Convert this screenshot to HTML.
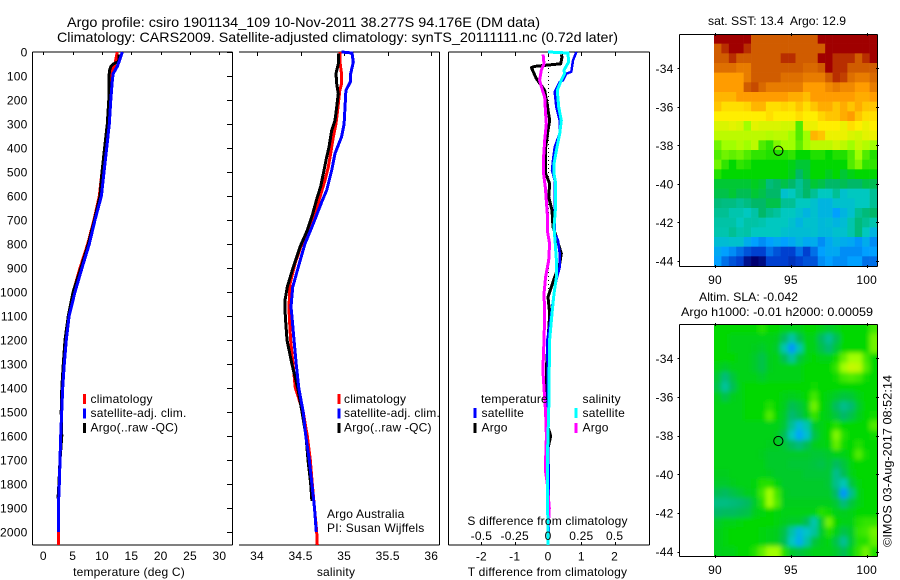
<!DOCTYPE html>
<html lang="en">
<head>
<meta charset="utf-8">
<title>Argo profile csiro 1901134_109</title>
<style>
html,body{margin:0;padding:0;background:#fff;width:900px;height:580px;overflow:hidden}
svg{display:block}
text{font-family:"Liberation Sans",sans-serif;font-size:12px;fill:#000;letter-spacing:0.2px}
.title{font-size:14px;letter-spacing:0}
.fit{letter-spacing:0}
</style>
</head>
<body>
<svg id="chart" xmlns="http://www.w3.org/2000/svg" width="900" height="580" viewBox="0 0 900 580">
<rect width="900" height="580" fill="#fff"/>
<text class="title" x="67" y="27" textLength="473" lengthAdjust="spacingAndGlyphs">Argo profile: csiro 1901134_109 10-Nov-2011 38.277S 94.176E (DM data)</text>
<text class="title" x="57" y="42" textLength="561" lengthAdjust="spacingAndGlyphs">Climatology: CARS2009. Satellite-adjusted climatology: synTS_20111111.nc (0.72d later)</text>

<g id="p1"></g>
<g id="p2"></g>
<g id="p3"></g>
<defs>
<clipPath id="clipSst"><rect x="714" y="34" width="163" height="232"/></clipPath>
<clipPath id="clipSla"><rect x="714" y="324" width="163" height="232"/></clipPath>
<filter id="slaBlur" x="-5%" y="-5%" width="110%" height="110%"><feGaussianBlur stdDeviation="2.5"/></filter>
</defs>
<g id="m1"></g>
<g id="m2"></g>

<text class="fit" x="708" y="25" textLength="138" lengthAdjust="spacingAndGlyphs" xml:space="preserve">sat. SST: 13.4  Argo: 12.9</text>
<text class="fit" x="699" y="301" textLength="99" lengthAdjust="spacingAndGlyphs">Altim. SLA: -0.042</text>
<text class="fit" x="681" y="316" textLength="192" lengthAdjust="spacingAndGlyphs">Argo h1000: -0.01 h2000: 0.00059</text>
<text class="fit" transform="translate(891.5,547) rotate(-90)" textLength="172" lengthAdjust="spacingAndGlyphs">©IMOS 03-Aug-2017 08:52:14</text>
<text x="327" y="518">Argo Australia</text>
<text x="327" y="532">PI: Susan Wijffels</text>
</svg>
<script>
// ---------- axis tick data ----------
const depthTicks = [0,100,200,300,400,500,600,700,800,900,1000,1100,1200,1300,1400,1500,1600,1700,1800,1900,2000];
const tempTicks = [0,5,10,15,20,25,30];
const salTicks = [34,34.5,35,35.5,36];
const salTickLabels = ['34','34.5','35','35.5','36'];
const tDiffTicks = [-2,-1,0,1,2];
const sDiffTicks = [-0.5,-0.25,0,0.25,0.5];
const sDiffTickLabels = ['-0.5','-0.25','0','0.25','0.5'];
const lonTicks = [90,95,100];
const latTicks = [-34,-36,-38,-40,-42,-44];

// ---------- temperature profiles ----------
const tempClimDepth = [0,50,70,100,200,300,400,500,600,700,800,900,1000,1100,1200,1300,1400,1500,1600,1700,1800,1900,2000,2055];
const tempClim = [12.6,12.2,11.9,11.5,11.25,10.9,10.56,10,9.54,8.64,7.56,6.25,5.1,4.35,3.9,3.56,3.3,3.13,2.96,2.85,2.73,2.56,2.56,2.56];
const tempSatDepth = [0,30,60,90,120,200,300,400,500,600,700,800,900,1000,1100,1200,1300,1400,1500,1600,1700,1800,1900,2000];
const tempSat = [13.46,13.07,12.6,11.9,11.76,11.5,11.25,10.8,10.34,9.9,8.8,7.84,6.6,5.4,4.4,3.92,3.58,3.3,3.13,2.96,2.85,2.73,2.56,2.56];
const tempArgoDepth = [10,40,50,60,80,200,300,400,500,600,700,800,900,1000,1100,1200,1300,1400,1500,1600,1700,1800,1860];
const tempArgo = [12.9,12.85,11.9,11.5,11.25,11.15,10.9,10.45,10,9.66,8.7,7.67,6.4,5.07,4.26,3.7,3.4,3.15,3.05,3.16,2.85,2.65,2.5];

// ---------- salinity profiles ----------
const salClimDepth = [0,35,90,132,160,229,299,354,424,479,535,604,674,743,812,882,965,1062,1100,1200,1300,1400,1500,1600,1700,1800,1900,2000,2055];
const salClim = [34.95,34.95,34.97,34.97,34.95,34.93,34.906,34.876,34.845,34.818,34.78,34.723,34.666,34.589,34.501,34.436,34.379,34.367,34.371,34.386,34.413,34.44,34.53,34.577,34.612,34.635,34.66,34.685,34.692];
const salSatDepth = [0,4,42,90,125,160,230,300,354,423,493,576,618,715,800,896,980,1062,1100,1200,1300,1400,1500,1600,1700,1800,1900,2000];
const salSat = [34.97,35.09,35.105,35.075,35.07,35.02,35.01,35.0,34.97,34.895,34.857,34.8,34.75,34.646,34.55,34.474,34.41,34.39,34.40,34.425,34.45,34.48,34.53,34.56,34.60,34.63,34.66,34.68];
const salArgoDepth = [7,49,90,132,174,229,285,326,396,451,507,562,604,674,743,812,896,979,1035,1062,1100,1200,1300,1400,1500,1600,1700,1800,1870];
const salArgo = [34.933,34.933,34.906,34.914,34.933,34.914,34.895,34.857,34.826,34.792,34.761,34.73,34.692,34.639,34.577,34.493,34.417,34.348,34.321,34.321,34.325,34.344,34.40,34.467,34.516,34.562,34.585,34.616,34.63];

// ---------- difference profiles ----------
const dTempSatDepth = [0,35,83,90,118,125,167,229,285,340,396,451,493,535,604,757,785,840,896,951,1035,1090,1200,1500,1800,2000];
const dTempSat = [0.85,0.75,0.7,0.55,0.45,0.35,0.2,0.25,0.35,0.35,0.2,0.15,0.12,0.2,0.2,0.2,0.3,0.35,0.35,0.25,0.15,0.1,-0.02,0,0.02,0.02];
const dTempArgoDepth = [10,21,49,60,65,111,139,160,215,285,326,396,507,549,604,660,729,771,840,882,938,1021,1090,1325,1500,1550,1600,1650,2000];
const dTempArgo = [0.4,0.42,0.38,-0.4,-0.5,-0.35,-0.2,-0.1,-0.03,0.05,0,-0.07,-0.07,0.05,0.02,0.12,0.15,0.25,0.4,0.35,0.2,0,0.05,-0.05,-0.04,-0.03,0.08,0,0];
const dSalSatDepth = [0,4,42,76,90,118,160,229,285,340,410,465,507,549,604,660,729,799,868,938,1007,1090,1200,1500,1600,1700,1800,2000,2055];
const dSalSat = [0,0.15,0.155,0.12,0.125,0.1,0.07,0.08,0.1,0.088,0.063,0.045,0.045,0.058,0.055,0.055,0.045,0.055,0.063,0.063,0.045,0.03,0.012,0.005,0,-0.005,-0.005,0,0];
const dSalArgoDepth = [10,49,76,118,153,188,257,299,368,438,507,563,618,674,743,799,868,938,1007,1090,1200,1325,1400,1500,1600,1740,1800,1900,2000];
const dSalArgo = [-0.037,-0.03,-0.05,-0.063,-0.045,-0.025,-0.018,-0.013,-0.025,-0.033,-0.033,-0.02,-0.013,-0.005,-0.005,0.012,0.005,-0.018,-0.03,-0.025,-0.03,-0.038,-0.03,-0.018,-0.012,-0.02,-0.005,0.01,0];

// ---------- map fields (colour-scale level, 0 = coldest/lowest, 10 = warmest/highest) ----------
const sstField = [
[10,10,10,10,10,9,9,9,9,9,9,9,9,9,10,10,10,10,10,10,10,10],
[9,9.5,10,10,9.5,9,9,9,9,9,9,9,9,9,9,10,10,10,10,10,10,10],
[9,9,9.5,9,9,9,9,9,9,9.5,9.5,9,9,9,10,10,9.5,9.5,9.5,9,9.5,10],
[8.7,8.7,8.7,8.5,8.5,9,9,9,9,9,9,9,8.8,8.8,9,10,9.5,9.5,9,9,9,9],
[8,8,8,8,8.5,9,9,9,9,8.7,8.7,8.7,8.5,8.5,8.5,9,9.5,9.3,8.7,8.5,8.5,8.8],
[8,8,8,8,9,9.2,8.8,8.5,8.5,8.5,8.5,8.5,8,8,8,8.3,8.5,8.3,8.3,8,8,8.5],
[7.7,7.7,7.7,8,8,8,8,8,8,8,7.8,7.8,7.6,8,8,8,8,8,8,7.8,7.8,8],
[7.5,7.2,7.2,7.2,7.3,7.7,7.7,7.2,7.2,7.3,7.2,7.5,7.2,7.5,7.8,7.8,7.5,7.8,7.5,7.8,7.5,7.5],
[7,7,7,7,7,7,7,7.2,7,7,7,7.2,7,7,7.3,7.5,7.5,7.8,8,7.5,7.2,7.2],
[6.6,6.6,6.7,6.6,6,6.7,6.6,6.6,6.6,6.5,6.5,5.5,6.8,6.8,7,7,7,6.8,7.2,7,6.8,7],
[6.3,6.3,6.3,6.3,6.3,6.3,6.3,6.2,6.3,6.3,6,5.5,6,7.7,7.5,6.8,6.8,6.8,6.6,6.5,6.7,6.8],
[5.7,6,6,6.2,6,6.3,5.5,5.3,5.8,6,6,5.6,6,6.3,6.3,6.3,6.5,6.3,6,6.4,6.2,6],
[5.5,5.7,5.6,5.7,5.5,5.3,5.3,5.2,5.2,5.2,5.3,5,5,5.2,5.2,5,5.2,5.2,5.5,6,5.5,5.2],
[5.7,5.3,5,5.3,5.2,5,5,5,5,5,4.8,4.5,4.5,5,5,5,5,5,5.5,5.8,5.3,5.3],
[5.2,5,5,5,5,5,5,5,5,5,4.7,4,4.5,5,5,4.7,5,4.5,4.8,5,5,5],
[4.5,4.5,4.5,4.5,4.5,4.7,4.5,3.8,4,4.3,4,3.5,4,4.5,4.3,4,4,4.2,4,4,4.3,4.2],
[4.3,4.3,4.5,4.2,4.2,4.5,4.3,4,4,2.8,3,3.5,4,3.5,3,3,3.5,2.8,3,3,3,3.5],
[3.8,3.7,3.7,3.5,3.7,4,4,4.3,4.3,3.5,3.5,3,3,2.8,2.5,2.5,2.8,2.8,2.8,3,3,3.5],
[3.5,3.5,3.2,3.2,3,3.3,4,3.6,3.4,3,3,2.8,2.5,2.8,2.5,2.5,2,2.5,2.8,3.5,3.8,4],
[3.3,3.3,3.3,3,3.3,3.3,3.2,3,3,3,2.8,2.5,2.8,2.8,2.6,2.7,2.5,2.7,3.2,3.8,3.5,3.2],
[3.2,3.2,3.5,3.2,3.3,3,3,3,3,2.8,2.7,2.7,2.7,2.8,2.6,2.6,2.8,2.8,3.2,3.8,3,2.5],
[2.7,2.7,2.8,2.8,2.3,2,1.8,2,2.2,2,2.2,2.5,2.2,2.3,1.8,2.2,2.5,2.3,2.2,1.9,2.3,1.8],
[2.2,2,1.8,1.5,1.2,1,1,1.5,1.2,1,1,1.5,1,1.5,2,2.2,2.2,1.8,1.8,1.8,2,2],
[2,1.5,1.2,1,0.3,0,0.2,1,1,1,0.8,1,1.2,1.2,1.8,2,1.8,1.8,2,2,1.5,1.5]
];
const slaField = [
[5,5,5,5,5,5,5.2,5,5,4.8,4.8,4.8,5,5,4.8,4.6,4.8,5,5,5,5,5.4],
[5,5,4.8,4.8,4.8,4.8,4.8,4.8,4.7,4.1,3.3,4.2,4.8,4.8,4.1,3.5,4.2,5,5,5,5,5.7],
[5,5,4.8,4.8,4.8,4.7,4.6,4.8,4.6,3.2,1.9,3.2,4.8,4.8,4.3,3.9,4.5,5,5,5,5,5.7],
[5,5,5,4.8,4.8,4.6,4.3,4.7,4.8,4.2,3.4,4.4,4.8,5,4.8,4.8,5.1,5.6,6,6,5.4,5],
[4.8,4.6,4.8,4.8,4.8,4.6,4.3,4.7,4.8,4.8,4.8,4.8,5,5,5,5,5.3,6,6.4,6.3,5.5,5],
[4.5,3.8,4.4,4.8,4.8,4.8,4.6,4.8,4.8,4.8,4.8,4.8,5,5,5,5,5.1,5.4,5.5,5.4,5.1,5],
[4.3,3.4,4.2,4.8,5,5,5,5,5,5,5,5,5,5.1,5,5,5,5,5,5,5,5],
[4.7,4.3,4.7,4.8,5,5,5,5,5,4.8,4.7,4.8,5,5.4,5,4.8,4.6,4.4,4.5,4.8,5,5],
[4.8,4.8,4.8,4.8,5,5,5,5.2,5,4.7,4.2,4.4,4.8,5.7,5,4.7,4.1,3.6,3.9,4.6,5,5],
[4.8,4.8,4.8,4.8,5,5,5,5.5,5,4.6,3.9,4.2,4.7,5.3,4.9,4.7,4.4,4,4.3,4.7,5,5.1],
[4.8,4.8,4.8,4.8,4.8,4.8,4.8,4.8,4.8,4.5,3.5,2.6,3.2,4.6,4.8,5,5.2,5,5,5,5,5.5],
[4.8,4.8,4.8,4.8,4.8,4.8,4.8,4.8,4.7,4.2,3,2.1,2.8,4.3,4.8,5,5.8,5.2,5,5,5,5.1],
[4.8,4.8,4.8,4.8,4.8,4.8,4.8,4.7,4.7,4.5,4.1,3.8,4.2,4.7,4.8,4.9,5.6,5.1,5,5.2,5,5],
[4.8,4.8,4.8,4.8,4.8,4.8,4.7,4.6,4.6,4.6,4.6,4.6,4.6,4.5,4.5,4.6,4.8,4.8,5,5.5,5.1,5],
[4.8,4.8,4.8,4.8,4.8,4.8,4.8,4.6,4.6,4.6,4.5,4.5,4.5,4.4,4.3,4.5,4.1,4.4,4.9,5,5,5],
[4.7,4.7,4.8,4.8,4.8,4.8,4.8,4.7,4.6,4.6,4.6,4.6,4.5,4.5,4.5,4.5,3.6,4.2,4.8,5,5,5],
[4.6,4.6,4.7,4.8,4.8,4.9,5.2,5.2,4.9,4.6,4.6,4.6,4.6,4.6,4.6,4.5,3.6,3.1,4.4,4.9,5,5],
[4.2,4.1,4.3,4.5,4.7,4.8,5.4,6,5.4,4.7,4.6,4.6,4.6,4.6,4.6,4.6,4,1.9,3.6,4.8,5,5],
[3.7,3.7,3.8,3.9,4.1,4.6,5.2,6,5.5,4.7,4.7,4.7,4.7,4.7,4.7,4.7,4.5,3.8,4.4,4.8,5,5],
[4,4.1,4.1,4.2,4.3,4.7,4.9,5,4.9,4.8,4.8,4.8,4.8,4.8,5.2,5.1,4.8,4.7,4.8,5,5,5],
[4.6,4.8,4.8,4.9,5,5,5,5,4.9,4.7,4.6,4.6,4.2,3.2,4.6,5.7,5,4.8,4.8,5.2,5.3,5.3],
[4.7,4.9,5,5,5,5,4.9,4.8,4.7,4.3,3.3,2.5,2.9,3.4,4.6,5.2,4.8,4.3,4.6,5.3,5.4,5.7],
[4.7,4.9,5,5,5,5,4.9,4.8,4.7,4.2,3,2.3,3.3,4.4,4.7,4.9,4.3,3.5,4.5,5.2,5.2,5.6],
[4.7,4.8,4.8,5,5,5.2,5.6,6,6,5.2,4.6,4.4,4.6,4.8,4.8,4.8,4.6,4.2,4.8,5.3,5.7,5.2]
];
const floatLon = [94.176];
const floatLat = [-38.277];

// ---------- scales ----------
const NS = 'http://www.w3.org/2000/svg';
const depthY = d => 52 + d * 0.24;
const tempX = t => 43.3 + t * 5.87;
const salX = s => 257 + (s - 34) * 87.15;
const tDiffX = t => 548 + t * 33.3;
const sDiffX = s => 548 + s * 133.2;
const lonX = l => 715 + (l - 90) * 15.17;
const latY1 = l => 68.3 + (-34 - l) * 19.27;
const latY2 = l => 358.3 + (-34 - l) * 19.34;
const palette = [[0,0,112],[0,64,208],[0,160,255],[0,200,192],[0,184,104],[0,216,0],[160,255,0],[255,238,0],[255,156,0],[208,92,0],[160,0,0]];
function levelColor(v){
  const c = Math.max(0, Math.min(10, v));
  const i = Math.min(9, Math.floor(c));
  const f = c - i;
  const rgb = palette[i].map((a, k) => Math.round(a + (palette[i + 1][k] - a) * f));
  return 'rgb(' + rgb.join(',') + ')';
}
function mk(parent, tag, attrs, txt){
  const el = document.createElementNS(NS, tag);
  for (const k in attrs) el.setAttribute(k, attrs[k]);
  if (txt !== undefined) el.textContent = txt;
  parent.appendChild(el);
  return el;
}
function line(parent, name, x1, y1, x2, y2){
  const el = mk(parent, 'line', {x1: x1, y1: y1, x2: x2, y2: y2, stroke: '#000', 'stroke-width': 1, 'shape-rendering': 'crispEdges'});
  
  
  return el;
}
function label(parent, name, x, y, str, anchor){
  const el = mk(parent, 'text', {x: x, y: y, 'text-anchor': anchor || 'start'}, str);
  
  
  return el;
}
function profile(parent, name, depths, vals, xf, color, width){
  const pts = depths.map((d, i) => xf(vals[i]).toFixed(1) + ',' + depthY(d).toFixed(1)).join(' ');
  const el = mk(parent, 'polyline', {points: pts, fill: 'none', stroke: color, 'stroke-width': width, 'shape-rendering': 'crispEdges', 'stroke-linejoin': 'round'});
  
  
  return el;
}
function swatch(parent, name, x, y, color){
  const el = mk(parent, 'rect', {x: x, y: y, width: 3, height: 10, fill: color, 'shape-rendering': 'crispEdges'});
  
  
  return el;
}
function legendThree(parent, sx, tx){
  swatch(parent, 'legend-swatch-climatology', sx, 394, '#f00');
  label(parent, 'legend-label-climatology', tx, 403, 'climatology');
  swatch(parent, 'legend-swatch-satellite', sx, 408.5, '#00f');
  label(parent, 'legend-label-satellite', tx, 417, 'satellite-adj. clim.');
  swatch(parent, 'legend-swatch-argo', sx, 423, '#000');
  label(parent, 'legend-label-argo', tx, 431.5, 'Argo(..raw -QC)');
}

// ---------- panel 1: temperature ----------
const p1 = document.getElementById('p1');
line(p1, 'temperature-axis-top', 32.5, 52, 232.5, 52);
line(p1, 'temperature-axis-bottom', 32.5, 545, 232.5, 545);
line(p1, 'temperature-axis-left', 32.5, 52, 32.5, 545);
line(p1, 'temperature-axis-right', 232.5, 52, 232.5, 545);
depthTicks.forEach(d => {
  line(p1, 'depth-tick', 227, Math.round(depthY(d)) + 0.5, 232, Math.round(depthY(d)) + 0.5);
  label(p1, 'depth-tick-label', 27.5, depthY(d) + 4.5, String(d), 'end');
});
tempTicks.forEach(t => {
  line(p1, 'temperature-tick', Math.round(tempX(t)) + 0.5, 52, Math.round(tempX(t)) + 0.5, 55);
  label(p1, 'temperature-tick-label', tempX(t), 560, String(t), 'middle');
});
label(p1, 'temperature-axis-title', 129, 576, 'temperature (deg C)', 'middle');
profile(p1, 'temperature-climatology-line', tempClimDepth, tempClim, tempX, '#f00', 3);
profile(p1, 'temperature-argo-line', tempArgoDepth, tempArgo, tempX, '#000', 3);
profile(p1, 'temperature-satellite-line', tempSatDepth, tempSat, tempX, '#00f', 3);
legendThree(p1, 83, 90.5);

// ---------- panel 2: salinity ----------
const p2 = document.getElementById('p2');
line(p2, 'salinity-axis-top', 239, 52, 439.5, 52);
line(p2, 'salinity-axis-bottom', 239, 545, 439.5, 545);
line(p2, 'salinity-axis-right', 439.5, 52, 439.5, 545);
salTicks.forEach((s, i) => {
  line(p2, 'salinity-tick', Math.round(salX(s)) + 0.5, 52, Math.round(salX(s)) + 0.5, 56);
  label(p2, 'salinity-tick-label', salX(s), 560, salTickLabels[i], 'middle');
});
label(p2, 'salinity-axis-title', 336, 576, 'salinity', 'middle');
profile(p2, 'salinity-climatology-line', salClimDepth, salClim, salX, '#f00', 3);
profile(p2, 'salinity-argo-line', salArgoDepth, salArgo, salX, '#000', 3);
profile(p2, 'salinity-satellite-line', salSatDepth, salSat, salX, '#00f', 3);
legendThree(p2, 337.5, 344);

// ---------- panel 3: differences ----------
const p3 = document.getElementById('p3');
line(p3, 'difference-axis-top', 448.5, 52, 649.5, 52);
line(p3, 'difference-axis-bottom', 448.5, 545, 649.5, 545);
line(p3, 'difference-axis-left', 448.5, 52, 448.5, 545);
line(p3, 'difference-axis-right', 649.5, 52, 649.5, 545);
const zero = mk(p3, 'line', {x1: 548.5, y1: 52, x2: 548.5, y2: 545, stroke: '#000', 'stroke-width': 1, 'stroke-dasharray': '1 3', 'shape-rendering': 'crispEdges'});


tDiffTicks.forEach(t => {
  line(p3, 'tdiff-tick-top', Math.round(tDiffX(t)) + 0.5, 52, Math.round(tDiffX(t)) + 0.5, 56);
  line(p3, 'tdiff-tick-bottom', Math.round(tDiffX(t)) + 0.5, 542, Math.round(tDiffX(t)) + 0.5, 545);
  label(p3, 'tdiff-tick-label', tDiffX(t), 560.5, String(t), 'middle');
});
label(p3, 'tdiff-axis-title', 547.5, 576, 'T difference from climatology', 'middle');
profile(p3, 'dtemp-argo-line', dTempArgoDepth, dTempArgo, tDiffX, '#000', 3);
profile(p3, 'dtemp-satellite-line', dTempSatDepth, dTempSat, tDiffX, '#00f', 2.5);
profile(p3, 'dsal-argo-line', dSalArgoDepth, dSalArgo, sDiffX, '#f0f', 3);
profile(p3, 'dsal-satellite-line', dSalSatDepth, dSalSat, sDiffX, '#0ff', 3);
sDiffTicks.forEach((s, i) => {
  label(p3, 'sdiff-tick-label', sDiffX(s), 540, sDiffTickLabels[i], 'middle');
});
label(p3, 'sdiff-axis-title', 547.5, 525, 'S difference from climatology', 'middle');
label(p3, 'legend-heading-temperature', 481, 403, 'temperature');
swatch(p3, 'legend-swatch-temperature-satellite', 473.5, 408, '#00f');
label(p3, 'legend-label-temperature-satellite', 481.5, 417, 'satellite');
swatch(p3, 'legend-swatch-temperature-argo', 473.5, 423, '#000');
label(p3, 'legend-label-temperature-argo', 481.5, 431.5, 'Argo');
label(p3, 'legend-heading-salinity', 582.5, 403, 'salinity');
swatch(p3, 'legend-swatch-salinity-satellite', 574.5, 408, '#0ff');
label(p3, 'legend-label-salinity-satellite', 582.5, 417, 'satellite');
swatch(p3, 'legend-swatch-salinity-argo', 574.5, 423, '#f0f');
label(p3, 'legend-label-salinity-argo', 582.5, 431.5, 'Argo');

// ---------- maps ----------
function drawMap(g, prefix, field, top, bottom, latY, tickBaseline, clipId, blur){
  const cellsG = mk(g, 'g', {'clip-path': 'url(#' + clipId + ')'});
  
  
  const inner = mk(cellsG, 'g', blur ? {filter: 'url(#slaBlur)'} : {});
  
  
  const cw = 163 / field[0].length;
  const ch = (bottom - top) / field.length;
  field.forEach((row, r) => row.forEach((v, c) => {
    const over = blur ? 0.5 : 0.3;
    const el = mk(inner, 'rect', {x: 714 + c * cw - ((blur && c === 0) ? 12 : 0), y: top + r * ch - ((blur && r === 0) ? 12 : 0), width: cw + over + ((blur && (c === 0 || c === row.length - 1)) ? 12 : 0), height: ch + over + ((blur && (r === 0 || r === field.length - 1)) ? 12 : 0), fill: levelColor(v)});
    
    
  }));
  line(g, prefix + '-axis-top', 679.5, top + 0.5, 877.5, top + 0.5);
  line(g, prefix + '-axis-bottom', 679.5, bottom + 0.5, 877.5, bottom + 0.5);
  line(g, prefix + '-axis-left', 679.5, top + 0.5, 679.5, bottom + 0.5);
  line(g, prefix + '-axis-right', 877.5, top + 0.5, 877.5, bottom + 0.5);
  lonTicks.forEach(l => {
    line(g, prefix + '-lon-tick', Math.round(lonX(l)) + 0.5, top - 1, Math.round(lonX(l)) + 0.5, top + 2);
    line(g, prefix + '-lon-tick', Math.round(lonX(l)) + 0.5, bottom - 1, Math.round(lonX(l)) + 0.5, bottom + 2);
    label(g, prefix + '-lon-tick-label', lonX(l), tickBaseline, String(l), 'middle');
  });
  latTicks.forEach(l => {
    const y = Math.round(latY(l)) + 0.5;
    line(g, prefix + '-lat-tick-left', 677.5, y, 680, y);
    line(g, prefix + '-lat-tick-right', 876, y, 879, y);
    label(g, prefix + '-lat-tick-label', 673.5, latY(l) + 4.5, String(l), 'end');
  });
  floatLon.forEach((lon, i) => {
    const el = mk(g, 'circle', {cx: lonX(lon), cy: latY(floatLat[i]), r: 4.6, fill: 'none', stroke: '#000', 'stroke-width': 1});
    
    
  });
}
drawMap(document.getElementById('m1'), 'sst', sstField, 34, 266, latY1, 284, 'clipSst', false);
drawMap(document.getElementById('m2'), 'sla', slaField, 324, 556, latY2, 574, 'clipSla', true);
</script>
</body>
</html>
